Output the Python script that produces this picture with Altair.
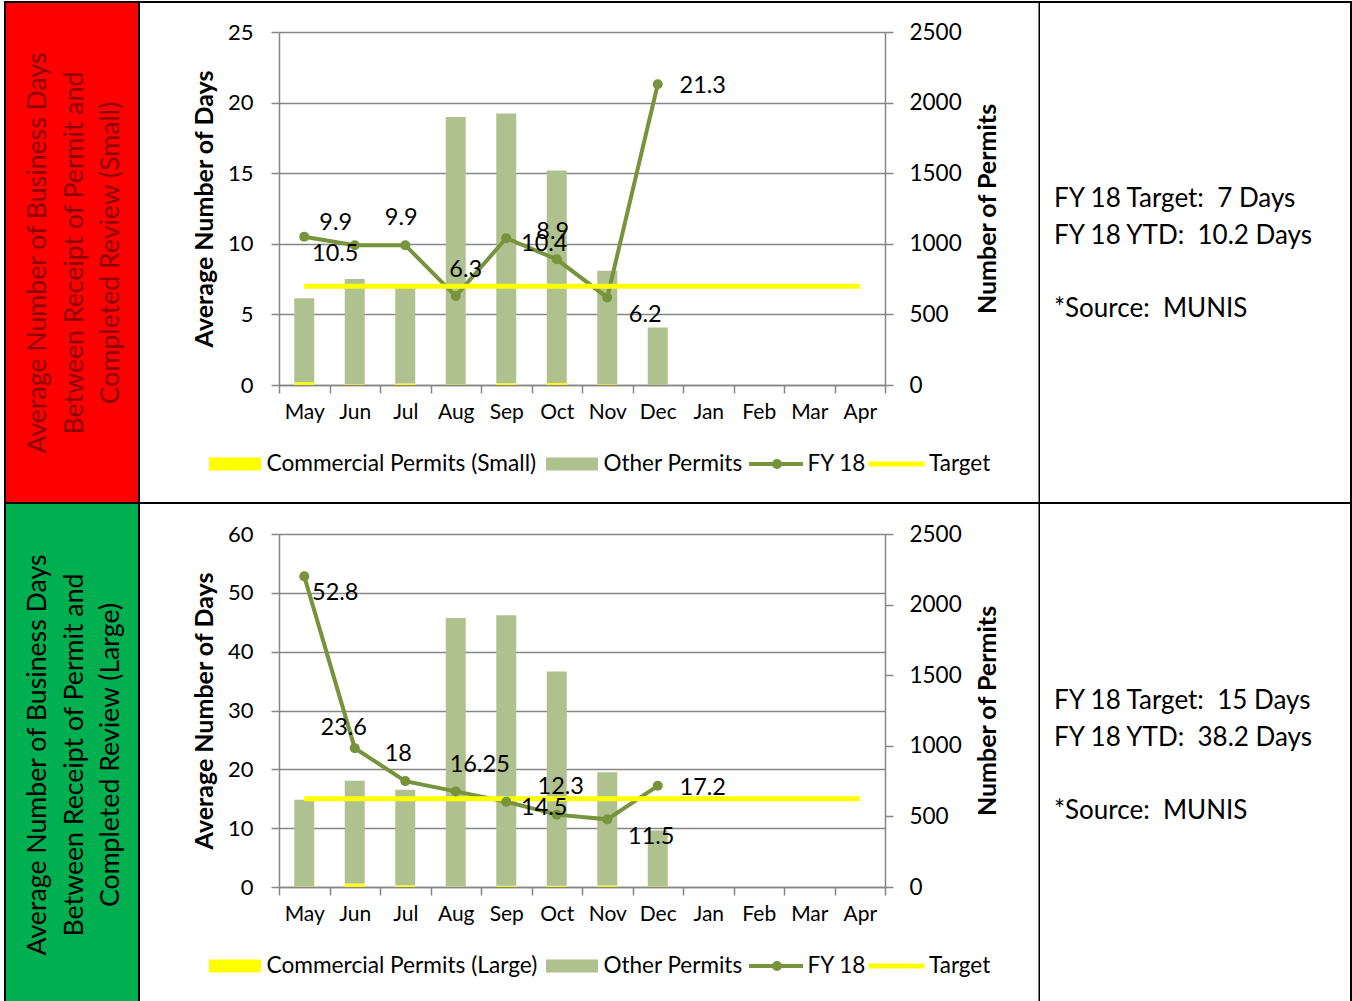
import altair as alt
import pandas as pd

# ---------------- data ----------------
months = ["May", "Jun", "Jul", "Aug", "Sep", "Oct", "Nov", "Dec", "Jan", "Feb", "Mar", "Apr"]
reported = months[:8]

small_fy18_days = [10.5, 9.9, 9.9, 6.3, 10.4, 8.9, 6.2, 21.3]
small_commercial = [20, 5, 10, 3, 12, 15, 5, 2]
small_other = [595, 745, 685, 1895, 1910, 1505, 805, 405]
small_target = [7] * 12

large_fy18_days = [52.8, 23.6, 18, 16.25, 14.5, 12.3, 11.5, 17.2]
large_commercial = [3, 25, 12, 3, 8, 8, 10, 4]
large_other = [615, 728, 677, 1902, 1917, 1519, 802, 396]
large_target = [15] * 12

small_day_ticks = [0, 5, 10, 15, 20, 25]
large_day_ticks = [0, 10, 20, 30, 40, 50, 60]
permit_ticks = [0, 500, 1000, 1500, 2000, 2500]

small_cell_lines = ["Average Number of Business Days", "Between Receipt of Permit and", "Completed Review (Small)"]
large_cell_lines = ["Average Number of Business Days", "Between Receipt of Permit and", "Completed Review (Large)"]
small_side_lines = ["FY 18 Target:  7 Days", "FY 18 YTD:  10.2 Days", "*Source:  MUNIS"]
large_side_lines = ["FY 18 Target:  15 Days", "FY 18 YTD:  38.2 Days", "*Source:  MUNIS"]
small_legend = ["Commercial Permits (Small)", "Other Permits", "FY 18", "Target"]
large_legend = ["Commercial Permits (Large)", "Other Permits", "FY 18", "Target"]

# data-label placement (pixel offsets, layout only)
small_label_dx = [31, -19, -4, 10, 38, -4, 38, 45]
small_label_dy = [17, -22, -27, -26, 6, -27, 18, 2]
large_label_dx = [31, -11, -7, 24, 38, 4, 44, 45]
large_label_dy = [17, -20, -27, -26, 6, -28, 18, 2]

# ---------------- style ----------------
FONT = "Lato"
GRID = "#868686"
OLIVE = "#77933C"
BAR_GREEN = "#AFC18E"
YELLOW = "#FFFF00"
W, H = 606, 353
LH = 36.5
ONE = pd.DataFrame({"k": [0]})


def keep_spaces(s):
    return s.replace("  ", "\u00a0 ")


def box(x1, x2, y1, y2, color, opacity=1.0):
    return alt.Chart(ONE).mark_rect(color=color, opacity=opacity).encode(
        x=alt.value(x1), x2=alt.value(x2), y=alt.value(y1), y2=alt.value(y2))


def label(x, y, txt, size, **kw):
    return alt.Chart(ONE).mark_text(font=FONT, fontSize=size, **kw).encode(
        x=alt.value(x), y=alt.value(y), text=alt.value(txt))


def make_row(days, commercial, other, target, day_ticks, label_dx, label_dy,
             cell_color, cell_text_color, cell_lines, side_lines, legend_names,
             top, bottom, top_border):
    x = alt.X("month:N", sort=months, title=None,
              scale=alt.Scale(type="band", domain=months, paddingInner=0, paddingOuter=0),
              axis=alt.Axis(tickBand="extent", labelAngle=0, labelFont=FONT, labelFontSize=21,
                            labelColor="black", labelPadding=8, tickSize=8, tickColor=GRID,
                            tickWidth=1.5, domainColor=GRID, domainWidth=1.5, grid=False))

    bars_df = pd.DataFrame({
        "month": reported * 2,
        "series": [legend_names[0]] * 8 + [legend_names[1]] * 8,
        "permits": commercial + other,
        "ord": [0] * 8 + [1] * 8,
    })
    bars = alt.Chart(bars_df).mark_bar(size=20).encode(
        x=x,
        y=alt.Y("permits:Q", stack="zero", scale=alt.Scale(domain=[0, 2500]),
                axis=alt.Axis(orient="right", values=permit_ticks, format="d",
                              title="Number of Permits",
                              titleAngle=270, titleBaseline="top", titleFont=FONT,
                              titleFontSize=25, titleFontWeight="bold", titleColor="black",
                              titlePadding=14, labelFont=FONT, labelFontSize=22.5,
                              labelColor="black", labelPadding=16, tickSize=8, tickColor=GRID,
                              tickWidth=1.5, domainColor=GRID, domainWidth=1.5, grid=False)),
        color=alt.Color("series:N", legend=None,
                        scale=alt.Scale(domain=legend_names[:2], range=[YELLOW, BAR_GREEN])),
        order=alt.Order("ord:Q"),
    )

    days_df = pd.DataFrame({"month": reported, "days": days, "idx": list(range(8))})
    target_df = pd.DataFrame({"month": months, "days": target})
    y_days = alt.Y("days:Q", scale=alt.Scale(domain=[day_ticks[0], day_ticks[-1]]),
                   axis=alt.Axis(orient="left", values=day_ticks, title="Average Number of Days",
                                 titleFont=FONT, titleFontSize=25, titleFontWeight="bold",
                                 titleColor="black", titlePadding=10, labelFont=FONT,
                                 labelFontSize=22, labelColor="black", labelPadding=18,
                                 tickSize=8, tickColor=GRID, tickWidth=1.5, domainColor=GRID,
                                 domainWidth=1.5, grid=True, gridColor=GRID, gridWidth=1.3))
    line = alt.Chart(days_df).mark_line(color=OLIVE, strokeWidth=4).encode(x=x, y=y_days)
    tline = alt.Chart(target_df).mark_line(color=YELLOW, strokeWidth=5).encode(x=x, y=y_days)
    pts = alt.Chart(days_df).mark_point(filled=True, color=OLIVE, size=100, opacity=1).encode(
        x=x, y=y_days)
    texts = [
        alt.Chart(days_df).transform_filter(alt.datum.idx == i).mark_text(
            font=FONT, fontSize=23.5, color="black", dx=label_dx[i], dy=label_dy[i]
        ).encode(x=x, y=y_days, text="days:N")
        for i in range(8)
    ]
    days_group = alt.layer(line, tline, pts, *texts)

    # table cells and borders (layout decoration, pixel units relative to plot area)
    y_top = -top + 1 if top_border else -top
    decor = [
        box(-279, 1073, -top, bottom, "white", 0),
        box(-273, -141, -top + (3 if top_border else 0), bottom - (2 if top_border else 0), cell_color),
        box(-275, -273, y_top, bottom, "black"),
        box(-141, -139, y_top, bottom, "black"),
        box(759.5, 761, y_top, bottom, "black"),
        box(1071, 1073, y_top, bottom, "black"),
    ]
    if top_border:
        decor.append(box(-275, 1073, -top + 1, -top + 3, "black"))
        decor.append(box(-275, 1073, bottom - 2, bottom, "black"))
    decor += [
        label(-233, 221, cell_lines, 26.7, angle=270, align="center", baseline="alphabetic",
              lineHeight=LH, color=cell_text_color),
        label(775, 175.3, [keep_spaces(s) for s in side_lines[:2]], 26, align="left",
              baseline="alphabetic", lineHeight=LH, color="black"),
        label(775, 175.3 + 3 * LH, keep_spaces(side_lines[2]), 26, align="left",
              baseline="alphabetic", color="black"),
    ]
    # legend
    ly = 432
    legend = [
        box(-70, -18, ly - 6.5, ly + 6.5, YELLOW),
        label(-12.5, ly, legend_names[0], 22.7, align="left", baseline="middle", color="black"),
        box(267, 319, ly - 6.5, ly + 6.5, BAR_GREEN),
        label(324.5, ly, legend_names[1], 22.5, align="left", baseline="middle", color="black"),
        alt.Chart(ONE).mark_rule(color=OLIVE, strokeWidth=4).encode(
            x=alt.value(470), x2=alt.value(524), y=alt.value(ly)),
        alt.Chart(ONE).mark_point(filled=True, opacity=1, color=OLIVE, size=100).encode(
            x=alt.value(498), y=alt.value(ly)),
        label(528.5, ly, legend_names[2], 22.5, align="left", baseline="middle", color="black"),
        alt.Chart(ONE).mark_rule(color=YELLOW, strokeWidth=5).encode(
            x=alt.value(589.5), x2=alt.value(645.5), y=alt.value(ly)),
        label(650, ly, legend_names[3], 22.5, align="left", baseline="middle", color="black"),
    ]
    return alt.layer(*decor, *legend, bars, days_group).resolve_scale(y="independent").properties(
        width=W, height=H)


row1 = make_row(small_fy18_days, small_commercial, small_other, small_target, small_day_ticks,
                small_label_dx, small_label_dy, "#FF0000", "#8B0000", small_cell_lines,
                small_side_lines, small_legend, 32, 472, True)
row2 = make_row(large_fy18_days, large_commercial, large_other, large_target, large_day_ticks,
                large_label_dx, large_label_dy, "#00B050", "black", large_cell_lines,
                large_side_lines, large_legend, 30, 467, False)

chart = alt.vconcat(row1, row2, spacing=0).properties(padding=0, background="white").configure_view(
    strokeWidth=0)

chart.save("out.html", embed_options={"renderer": "svg", "actions": False})
